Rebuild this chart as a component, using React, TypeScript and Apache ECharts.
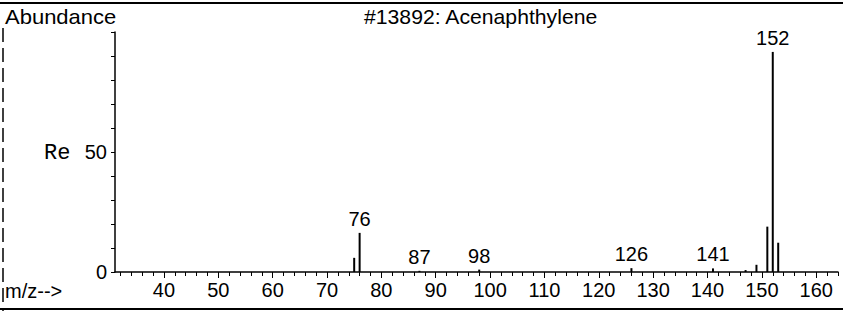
import React, { useEffect, useRef } from "react";
import * as echarts from "echarts";

// m/z values of the peaks
const mzValues = [75, 76, 87, 98, 126, 141, 147, 149, 151, 152, 153];
// relative abundance (0..100)
const abundances = [5.9, 16.3, 0.5, 1.0, 1.6, 1.5, 0.8, 3.0, 18.9, 91.7, 12.2];
// peaks that carry an m/z label
const labeledPeaks = [76, 87, 98, 126, 141, 152];
// x axis tick labels
const xTickLabels = [40, 50, 60, 70, 80, 90, 100, 110, 120, 130, 140, 150, 160];
// x axis minor ticks
const xMinorTicks = [
  32, 34, 36, 38, 40, 42, 44, 46, 48, 50, 52, 54, 56, 58, 60, 62, 64, 66, 68, 70,
  72, 74, 76, 78, 80, 82, 84, 86, 88, 90, 92, 94, 96, 98, 100, 102, 104, 106, 108,
  110, 112, 114, 116, 118, 120, 122, 124, 126, 128, 130, 132, 134, 136, 138, 140,
  142, 144, 146, 148, 150, 152, 154, 156, 158, 160, 162, 164,
];
// y axis labelled ticks
const yTickLabels = [0, 50];

const titleText = "#13892: Acenaphthylene";
const yTitle = "Abundance";
const xTitle = "m/z-->";

export default function App() {
  const ref = useRef<HTMLDivElement>(null);

  useEffect(() => {
    if (!ref.current) return;
    const chart = echarts.init(ref.current, undefined, { renderer: "svg" });
    const font = "'Liberation Sans', Arial, sans-serif";

    const data = mzValues.map((m, i) => ({
      value: [m, abundances[i]],
      label: { show: labeledPeaks.includes(m) },
    }));

    chart.setOption({
      animation: false,
      backgroundColor: "#fff",
      grid: { left: 115, right: 5, top: 32, bottom: 39, containLabel: false },
      xAxis: [
        {
          type: "value",
          min: 31,
          max: 164,
          splitLine: { show: false },
          axisLine: { lineStyle: { color: "#000", width: 1.5 } },
          axisTick: {
            show: true,
            customValues: xMinorTicks,
            length: 4,
            lineStyle: { color: "#000" },
          },
          axisLabel: {
            customValues: xTickLabels,
            color: "#000",
            fontSize: 20,
            fontFamily: font,
            margin: 8,
          },
        },
        {
          type: "value",
          min: 31,
          max: 164,
          position: "bottom",
          splitLine: { show: false },
          axisLine: { show: false },
          axisTick: {
            show: true,
            customValues: xTickLabels,
            length: 6,
            lineStyle: { color: "#000" },
          },
          axisLabel: { show: false },
        },
      ],
      yAxis: {
        type: "value",
        min: 0,
        max: 100,
        interval: 10,
        splitLine: { show: false },
        axisLine: { show: true, lineStyle: { color: "#000", width: 1.5 } },
        axisTick: { show: true, length: 4, lineStyle: { color: "#000" } },
        axisLabel: {
          color: "#000",
          fontSize: 20,
          fontFamily: font,
          margin: 8,
          formatter: (v: number) => (yTickLabels.includes(v) ? String(v) : ""),
        },
      },
      graphic: [
        {
          type: "line",
          shape: { x1: 0, y1: 3, x2: 843, y2: 3 },
          style: { stroke: "#000", lineWidth: 2 },
        },
        {
          type: "line",
          shape: { x1: 3, y1: 28, x2: 3, y2: 311 },
          style: { stroke: "#000", lineWidth: 1.5, lineDash: [14, 6] },
        },
        {
          type: "line",
          shape: { x1: 0, y1: 309, x2: 843, y2: 309 },
          style: { stroke: "#000", lineWidth: 2 },
        },
        {
          type: "text",
          x: 5,
          y: 17,
          scaleX: 1.1,
          style: {
            text: yTitle,
            fill: "#000",
            font: `20px ${font}`,
            textVerticalAlign: "middle",
          },
        },
        {
          type: "text",
          x: 364,
          y: 17,
          scaleX: 1.06,
          style: {
            text: titleText,
            fill: "#000",
            font: `20px ${font}`,
            textVerticalAlign: "middle",
          },
        },
        {
          type: "text",
          x: 5,
          y: 291,
          style: {
            text: xTitle,
            fill: "#000",
            font: `20px ${font}`,
            textVerticalAlign: "middle",
          },
        },
        {
          type: "text",
          x: 44,
          y: 153,
          style: {
            text: "Re",
            fill: "#000",
            font: `22px 'Liberation Mono', 'DejaVu Sans Mono', monospace`,
            textVerticalAlign: "middle",
          },
        },
      ],
      series: [
        {
          type: "bar",
          xAxisIndex: 0,
          barWidth: 2,
          itemStyle: { color: "#000" },
          label: {
            show: false,
            position: "top",
            distance: 4,
            color: "#000",
            fontSize: 20,
            fontFamily: font,
            formatter: (p: any) => String(p.value[0]),
          },
          data,
        },
      ],
    });

    return () => chart.dispose();
  }, []);

  return (
    <div
      ref={ref}
      style={{ position: "fixed", left: 0, top: 0, width: 843, height: 311 }}
    />
  );
}
